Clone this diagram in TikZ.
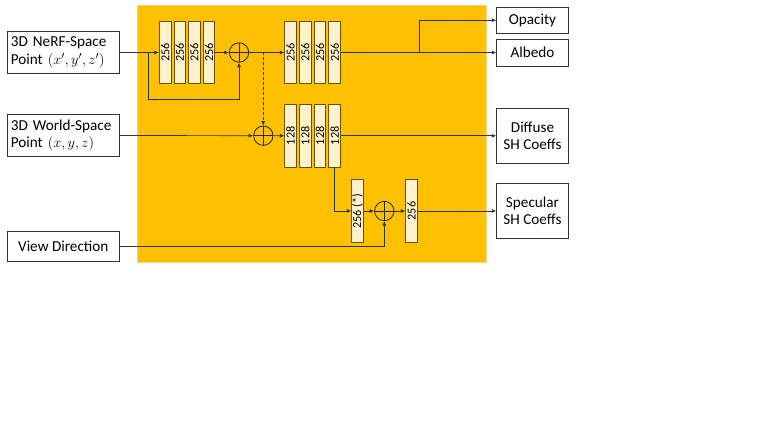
\documentclass[tikz,border=0pt]{standalone}
\usepackage{fontspec}
\setmainfont{Carlito}
\usepackage{graphicx}
\usetikzlibrary{arrows.meta}
\usetikzlibrary{calc}
\tikzset{>={Latex[length=4.5pt,width=4pt]}}

\definecolor{panelorange}{HTML}{FFC000}
\definecolor{panelborder}{HTML}{F2D38A}
\definecolor{layerfill}{HTML}{FFF2CC}
\definecolor{layerdraw}{HTML}{6B5200}
\newcommand{\vlabel}[1]{\rotatebox{90}{#1}}

\tikzset{
    iobox/.style={draw=black!80, line width=0.8pt, fill=white, inner sep=0pt,
        font=\fontsize{15.2}{17.4}\selectfont},
    inbox/.style={iobox, text width=105pt, inner xsep=3.5pt, align=left},
    outbox/.style={iobox, minimum width=71.6pt, align=center},
    layer/.style={draw=layerdraw, fill=layerfill, line width=0.8pt, inner sep=0pt,
        minimum width=11.7pt, minimum height=62.5pt, font=\fontsize{12.2}{13}\selectfont},
    sumnode/.style={circle, draw=black!85, line width=0.8pt, minimum size=19.4pt, inner sep=0pt,
        path picture={\draw[black!85, line width=0.8pt]
            (path picture bounding box.north) -- (path picture bounding box.south)
            (path picture bounding box.west) -- (path picture bounding box.east);}},
    wire/.style={black!80, line width=0.7pt}
}

\begin{document}
\begin{tikzpicture}[x=1pt, y=-1pt]

    \useasboundingbox (0,0) rectangle (782,441);

    % network panel
    \draw[draw=panelborder, fill=panelorange] (137.5,5.3) rectangle (485.7,262.3);

    % inputs
    \node[inbox, minimum height=41.6pt] (nerf) at (63.3,52.5) {3D NeRF-Space\\Point $(x',y',z')$};
    \node[inbox, minimum height=42.4pt] (world) at (63.3,135.5) {3D World-Space\\Point $(x,y,z)$};
    \node[iobox, minimum width=112pt, minimum height=30.7pt] (view) at (63.3,246.3) {View Direction};

    % layers
    \foreach \i/\x in {1/165.2,2/179.8,3/194.4,4/209.0}
    \node[layer] (a\i) at (\x,52.5) {\vlabel{256}};

    \foreach \i/\x in {1/290.6,2/305.3,3/320.0,4/334.7}
    \node[layer] (b\i) at (\x,52.5) {\vlabel{256}};

    \foreach \i/\x in {1/290.6,2/305.3,3/320.0,4/334.7}
    \node[layer] (c\i) at (\x,135.8) {\vlabel{128}};

    \node[layer] (d1) at (357.5,211) {\vlabel{256 (*)}};
    \node[layer] (e1) at (411.5,211) {\vlabel{256}};

    \node[sumnode] (s1) at (239,52.5) {};
    \node[sumnode] (s2) at (263.3,135.7) {};
    \node[sumnode] (s3) at (384.3,211) {};

    % outputs
    \node[outbox, minimum height=26.5pt] (opacity) at (532.5,20.2) {Opacity};
    \node[outbox, minimum height=27pt] (albedo) at (532.5,52.5) {Albedo};
    \node[outbox, minimum height=55pt] (diffuse) at (532.5,135.8) {Diffuse\\SH Coeffs};
    \node[outbox, minimum height=55pt] (specular) at (532.5,211) {Specular\\SH Coeffs};

    % connections
    \coordinate (skip) at (148.3,52.5);
    \coordinate (skipdown) at (148.3,99);
    \coordinate (split) at (419,52.5);

    \draw[wire,->] (nerf.east) -- (a1.west);
    \draw[wire,->] (a4.east) -- (s1.west);
    \draw[wire,->] (skip) -- (skipdown) -| (s1.south);
    \draw[wire,->] (s1.east) -- (b1.west);
    \draw[wire,->,dash pattern=on 3pt off 2pt] (s2 |- s1.east) -- (s2.north);
    \draw[wire,->] (world.east) -- (s2.west);
    \draw[wire,->] (s2.east) -- (c1.west);
    \draw[wire,->] (b4.east) -- (albedo.west);
    \draw[wire,->] (split) |- (opacity.west);
    \draw[wire,->] (c4.east) -- (diffuse.west);
    \draw[wire,->] (c4.south) |- (d1.west);
    \draw[wire,->] (d1.east) -- (s3.west);
    \draw[wire,->] (view.east) -| (s3.south);
    \draw[wire,->] (s3.east) -- (e1.west);
    \draw[wire,->] (e1.east) -- (specular.west);

\end{tikzpicture}
\end{document}
